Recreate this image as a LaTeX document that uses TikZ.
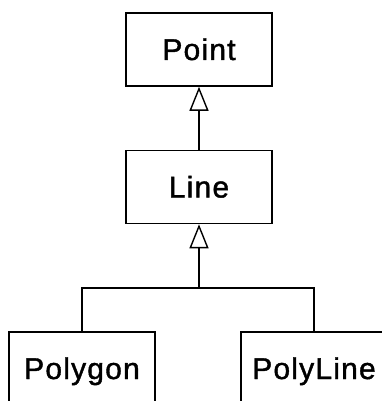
\documentclass[tikz,border=0pt]{standalone}
\usepackage{fontspec}
\setmainfont[FakeBold=1.3, LetterSpace=4]{Liberation Sans}
\usetikzlibrary{arrows.meta}

\begin{document}
\begin{tikzpicture}[x=1pt, y=-1pt,
		classbox/.style={draw, line width=1.6pt, minimum width=146pt, minimum height=73pt, inner sep=0pt, text height=21pt, text depth=0pt, font=\fontsize{30}{36}\selectfont},
		inherit/.style={-{Triangle[open, length=24pt, width=19pt, line width=1.4pt]}, line width=1.6pt}]
			\useasboundingbox (0,0) rectangle (382,401);
			\node (point) [classbox] at (199,49.5) {Point};
			\node (line) [classbox] at (199,187) {Line};
			\node (polygon) [classbox] at (82,368.5) {Polygon};
			\node (polyline) [classbox] at (314,368.5) {PolyLine};
			\coordinate (bar) at (199,288);

			\draw [inherit] (line.north) -- (point.south);
			\draw [inherit] (bar) -- (line.south);
			\draw [line width=1.6pt] (polygon.north) |- (bar) -| (polyline.north);
		\end{tikzpicture}
\end{document}
